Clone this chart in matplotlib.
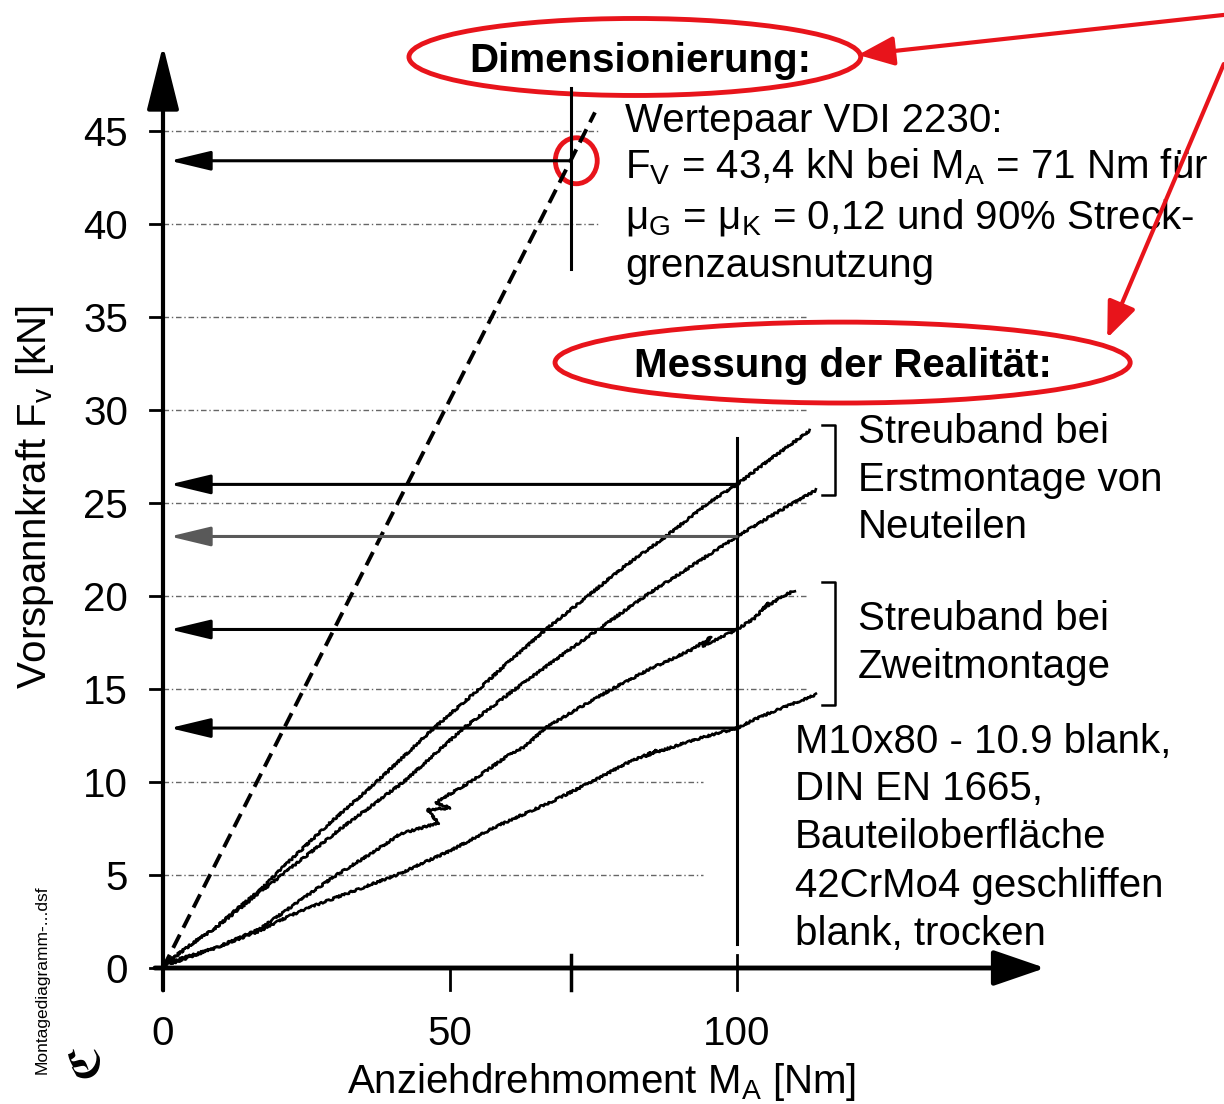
import matplotlib
matplotlib.use('agg')
import matplotlib.pyplot as plt
from matplotlib.patches import Ellipse

# Montagediagramm M10x80 - 10.9: Vorspannkraft ueber Anziehdrehmoment

# Auslegung nach VDI 2230
ma_dim = 71        # Nm
fv_dim = 43.4      # kN
dim_end_f = 46.0   # Ende der gestrichelten Geraden in kN

# Messkurven (Anziehdrehmoment in Nm, Vorspannkraft in kN)
erst_a_m = [0, 2, 5, 9.3, 13, 17, 19.5, 28, 37.2, 47.2, 54.7, 60, 66.7, 74, 80, 87.6, 95, 100, 106, 112.7]
erst_a_f = [0.2, 0.6, 1.3, 2.2, 3.2, 4.2, 5.0, 7.5, 10.0, 12.9, 14.9, 16.4, 18.2, 20.0, 21.5, 23.2, 25.0, 26.0, 27.4, 28.9]

erst_b_m = [0, 2, 5, 9.3, 13, 17, 20.7, 31, 41.9, 52.4, 60.5, 68, 75.8, 84, 92, 100, 107, 113.8]
erst_b_f = [0.2, 0.6, 1.3, 2.2, 3.1, 4.1, 5.0, 7.5, 10.0, 12.9, 14.8, 16.5, 18.2, 20.0, 21.6, 23.2, 24.5, 25.7]

zweit_a_m = [0, 2, 5, 9.3, 16.9, 23.3, 30.2, 36, 41.3, 48, 46, 50, 47.5, 53.5, 60, 63, 66.6, 72, 78.2, 85, 92, 95.5, 94,
             100, 103, 105.5, 104.5, 107.5, 110]
zweit_a_f = [0.2, 0.4, 0.7, 1.1, 2.1, 3.5, 5.0, 6.1, 7.2, 7.8, 8.5, 8.6, 8.9, 10.0, 11.4, 11.9, 12.9, 13.9, 15.0, 16.1,
             17.1, 17.8, 17.3, 18.2, 18.8, 19.6, 19.3, 19.9, 20.3]

zweit_b_m = [0, 2, 4.7, 9.3, 16.9, 22, 26.8, 32, 40.7, 50, 58, 67.4, 74.6, 80.7, 86, 84, 92.9, 100, 104, 108, 113.8]
zweit_b_f = [0.2, 0.3, 0.6, 1.1, 2.0, 2.8, 3.4, 4.0, 5.0, 6.3, 7.6, 8.9, 10.0, 11.0, 11.7, 11.4, 12.3, 12.9, 13.5,
             14.0, 14.7]

# Ablesewerte bei 100 Nm
ablese_m = 100
ablese_f = [26.0, 23.2, 18.2, 12.9]
ablese_farbe = ['black', '0.35', 'black', 'black']

y_ticks = [0, 5, 10, 15, 20, 25, 30, 35, 40, 45]
x_ticks = [0, 50, 100]
grid_levels = [5, 10, 15, 20, 25, 30, 35, 40, 45]
grid_ends = [94, 94, 112, 112, 112, 112, 112, 76, 76]

plt.rcParams['font.family'] = ['Liberation Sans', 'DejaVu Sans']
plt.rcParams['mathtext.fontset'] = 'custom'
plt.rcParams['mathtext.rm'] = 'Liberation Sans'
fs = 29

fig = plt.figure(figsize=(12.24, 11.04), dpi=100)
ax = fig.add_axes([0, 0, 1, 1])
ax.set_xlim(-28.397, 184.843)
ax.set_ylim(-7.312, 52.043)
ax.axis('off')

# Hilfslinien
for lev, end in zip(grid_levels, grid_ends):
    ax.plot([0, end], [lev, lev], color='0.4', lw=1.0, ls=(0, (4, 2, 1, 2)))

# Achsen mit Pfeilen
ax.annotate('', xy=(0, 49.6), xytext=(0, -1.2),
            arrowprops=dict(arrowstyle='-|>,head_length=2.0,head_width=0.5', mutation_scale=20,
                            lw=3, color='black', shrinkA=0, shrinkB=0))
ax.annotate('', xy=(153.7, 0), xytext=(-1.4, 0),
            arrowprops=dict(arrowstyle='-|>,head_length=1.6,head_width=0.55', mutation_scale=20,
                            lw=3.5, color='black', shrinkA=0, shrinkB=0))

for t in y_ticks:
    ax.plot([-2.3, 0], [t, t], color='black', lw=2)
    ax.text(-6.1, t - 0.81, str(t), ha='right', va='baseline', fontsize=fs)
for t in x_ticks:
    ax.plot([t, t], [0.7 if t == 100 else 0, -1.2], color='black', lw=2)
    ax.text(t, -4.14, str(t), ha='center', va='baseline', fontsize=fs)
ax.plot([ma_dim, ma_dim], [0.7, -1.2], color='black', lw=2.5)

ax.text(76.5, -6.7, r'Anziehdrehmoment M$_\mathregular{A}$ [Nm]', ha='center', va='baseline', fontsize=fs)
ax.text(-22.3, 25.3, r'Vorspannkraft F$_\mathregular{v}$ [kN]', ha='center', va='center',
        rotation=90, fontsize=fs)
ax.text(-21.1, -0.65, 'Montagediagramm-...dsf', ha='center', va='center', rotation=90, fontsize=12.5)
ax.text(-13.6, -5.0, 'ℭ', ha='center', va='center', rotation=90, fontsize=30, family='DejaVu Sans',
        fontweight='bold')

# Auslegungsgerade VDI 2230
ax.plot([0, dim_end_f * ma_dim / fv_dim], [0, dim_end_f], color='black', lw=2.8, ls=(0, (3.8, 2.0)))
ax.plot([ma_dim, ma_dim], [37.6, 47.3], color='black', lw=2.2)
ax.annotate('', xy=(1.2, fv_dim), xytext=(ma_dim, fv_dim),
            arrowprops=dict(arrowstyle='-|>,head_length=1.25,head_width=0.3', mutation_scale=20,
                            lw=2.2, color='black', shrinkA=0, shrinkB=0))

# Messkurven, leicht gezackt gezeichnet wie aufgezeichnete Messschriebe
for m, f in [(erst_a_m, erst_a_f), (erst_b_m, erst_b_f), (zweit_a_m, zweit_a_f), (zweit_b_m, zweit_b_f)]:
    line, = ax.plot(m, f, color='black', lw=1.9)
    line.set_sketch_params(scale=1.0, length=3, randomness=6)

ax.plot([ablese_m, ablese_m], [1.3, 28.5], color='black', lw=2.2)
for f, c in zip(ablese_f, ablese_farbe):
    ax.annotate('', xy=(1.2, f), xytext=(ablese_m, f),
                arrowprops=dict(arrowstyle='-|>,head_length=1.25,head_width=0.3', mutation_scale=20,
                                lw=2.2, color=c, shrinkA=0, shrinkB=0))

# Klammern fuer die Streubaender
for top, bot in [(29.19, 25.43), (20.75, 14.14)]:
    ax.plot([114.8, 117.1, 117.1, 114.8], [top, top, bot, bot], color='black', lw=1.8)

# Beschriftungen
fv_txt = f'{fv_dim:.1f}'.replace('.', ',')
dim_lines = ['Wertepaar VDI 2230:',
             r'F$_\mathregular{V}$ = ' + fv_txt + r' kN bei M$_\mathregular{A}$ = ' + str(ma_dim) + ' Nm für',
             r'μ$_\mathregular{G}$ = μ$_\mathregular{K}$ = 0,12 und 90% Streck-',
             'grenzausnutzung']
for s, y in zip(dim_lines, [44.95, 42.47, 39.78, 37.15]):
    ax.text(80.5, y, s, ha='left', va='baseline', fontsize=fs)

ax.text(83.1, 48.17, 'Dimensionierung:', ha='center', va='baseline', fontsize=fs, fontweight='bold')
ax.text(118.4, 31.77, 'Messung der Realität:', ha='center', va='baseline', fontsize=fs, fontweight='bold')

for s, y in zip(['Streuband bei', 'Erstmontage von', 'Neuteilen'], [28.23, 25.65, 23.12]):
    ax.text(121.1, y, s, ha='left', va='baseline', fontsize=fs)
for s, y in zip(['Streuband bei', 'Zweitmontage'], [18.17, 15.59]):
    ax.text(121.1, y, s, ha='left', va='baseline', fontsize=fs)
info = ['M10x80 - 10.9 blank,', 'DIN EN 1665,', 'Bauteiloberfläche', '42CrMo4 geschliffen', 'blank, trocken']
for s, y in zip(info, [11.56, 9.03, 6.45, 3.82, 1.24]):
    ax.text(110.1, y, s, ha='left', va='baseline', fontsize=fs)

# rote Markierungen
red = '#e8141b'
ax.add_patch(Ellipse((82.2, 48.98), 78.7, 4.14, fill=False, ec=red, lw=3.5))
ax.add_patch(Ellipse((118.4, 32.55), 100.2, 4.35, fill=False, ec=red, lw=3.5))
ax.add_patch(Ellipse((ma_dim + 1, fv_dim), 7.3, 2.47, fill=False, ec=red, lw=3.5))
ax.annotate('', xy=(121.1, 49.09), xytext=(184.8, 51.24),
            arrowprops=dict(arrowstyle='-|>,head_length=1.1,head_width=0.45', mutation_scale=20,
                            lw=3, color=red, shrinkA=0, shrinkB=0))
ax.annotate('', xy=(164.5, 33.87), xytext=(184.8, 48.6),
            arrowprops=dict(arrowstyle='-|>,head_length=1.1,head_width=0.45', mutation_scale=20,
                            lw=3, color=red, shrinkA=0, shrinkB=0))

fig.savefig('out.png', dpi=100)
plt.close(fig)
